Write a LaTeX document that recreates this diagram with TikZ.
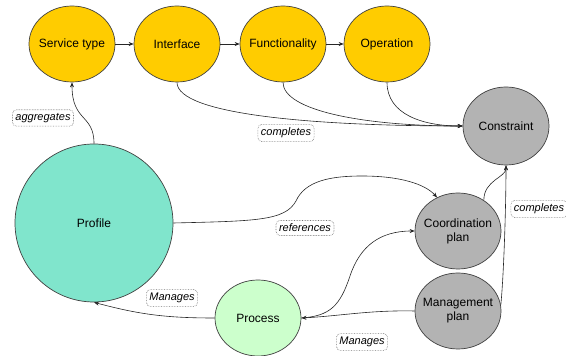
\documentclass[tikz,border=0pt]{standalone}
\usepackage{fontspec}
\setmainfont{Liberation Sans}
\usepackage{tikz}
\usetikzlibrary{calc, shapes.geometric, arrows.meta}
\definecolor{vang}{HTML}{FFCC00}
\definecolor{ngoc}{HTML}{80E5CC}
\definecolor{xanhnhat}{HTML}{CCFFCC}
\definecolor{xam}{HTML}{B3B3B3}
\definecolor{vien}{HTML}{404040}
\newcommand{\ntx}[1]{\makebox[0pt][c]{#1}}

\begin{document}
\begin{tikzpicture}[x=1pt, y=1pt,
    nut/.style={ellipse, draw=vien, line width=0.7pt, inner sep=0pt,
      minimum width=86, minimum height=76, align=center,
      font=\fontsize{12}{14}\selectfont},
    nhan/.style={draw=black!55, densely dotted, line width=0.6pt, rounded corners=4pt,
      fill=white, inner xsep=3pt, inner ysep=3.5pt,
      font=\fontsize{11}{13}\selectfont\itshape},
    mui/.style={-{Stealth[length=5pt, width=4pt]}, line width=0.6pt, black!85}]
                \useasboundingbox (0,0) rectangle (566,356);
                % Hàng trên
                \node[nut, fill=vang] (stype) at (72,312) {\ntx{Service type}};
                \node[nut, fill=vang] (iface) at (177,312) {\ntx{Interface}};
                \node[nut, fill=vang] (func) at (283,312) {\ntx{Functionality}};
                \node[nut, fill=vang] (oper) at (387,312) {\ntx{Operation}};
                \node[nut, fill=xam, minimum height=78] (constr) at (506,230) {\ntx{Constraint}};
                % Các nút dưới
                \node[circle, draw=vien, line width=0.7pt, fill=ngoc, minimum size=158,
                  font=\fontsize{12}{14}\selectfont] (profile) at (94,133) {Profile};
                \node[nut, fill=xanhnhat] (process) at (258,38) {\ntx{Process}};
                \node[nut, fill=xam] (coord) at (458,125) {\ntx{Coordination}\\\ntx{plan}};
                \node[nut, fill=xam] (mgmt) at (458,45) {\ntx{Management}\\\ntx{plan}};
                % Mũi tên
                \draw[mui] (stype) -- (iface);
                \draw[mui] (iface) -- (func);
                \draw[mui] (func) -- (oper);
                \draw[mui] (profile.north) .. controls +(0,30) and +(0,-40) .. (stype.south);
                \draw[mui] (iface.south) .. controls +(0,-32) and +(-150,0) .. (constr.west);
                \draw[mui] (func.south) .. controls +(0,-28) and +(-100,0) .. (constr.west);
                \draw[mui] (oper.south) .. controls +(0,-32) and +(-40,0) .. (constr.west);
                \draw[mui] (profile.east) .. controls (255,135) and (285,135) .. (296,155)
                  .. controls (305,175) and (330,180) .. (362,180)
                  .. controls (400,180) and (425,172) .. (coord.122);
                \draw[mui] (process.east) .. controls (330,40) and (340,50) .. (350,80)
                  .. controls (360,110) and (380,125) .. (coord.west);
                \draw[mui, {Stealth[length=5pt, width=4pt]}-] (process.east)
                  .. controls (340,40) and (370,46) .. (mgmt.west);
                \draw[mui] (process.west) to[out=180, in=-15] (profile.south);
                \draw[mui] (coord.50) .. controls +(0,20) and +(0,-12) .. (constr.south);
                \draw[mui] (mgmt.8) .. controls +(3,30) and +(0,-40) .. (constr.south);
                % Nhãn
                \node[nhan] (lagg) at (43,238) {aggregates};
                \node[nhan] (lcomp) at (286,223) {completes};
                \node[nhan] (lref) at (305,128) {references};
                \node[nhan] (lman1) at (172,58) {Manages};
                \node[nhan] (lman2) at (362,14) {Manages};
                \node[nhan] (lcomp2) at (539,147) {completes};
            \end{tikzpicture}
\end{document}
